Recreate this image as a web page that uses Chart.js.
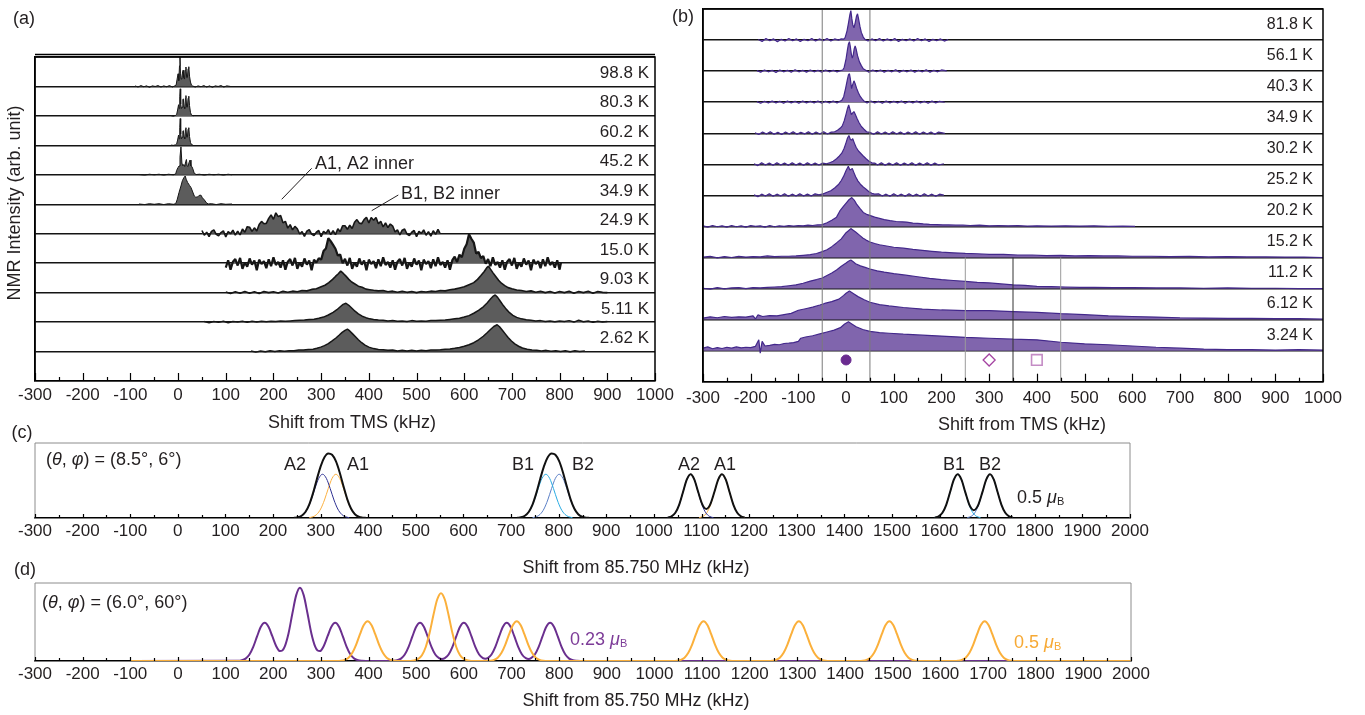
<!DOCTYPE html>
<html>
<head>
<meta charset="utf-8">
<script src="https://cdn.jsdelivr.net/npm/chart.js@4.4.1/dist/chart.umd.min.js"></script>
<style>
  html, body { margin: 0; padding: 0; background: #fff; }
  #wrap { position: relative; width: 1365px; height: 715px; overflow: hidden; }
  #wrap canvas { position: absolute; left: 0; top: 0; }
</style>
</head>
<body>
<div id="wrap">
  <canvas id="chartA" width="1365" height="715"></canvas>
  <canvas id="chartB" width="1365" height="715"></canvas>
  <canvas id="chartC" width="1365" height="715"></canvas>
  <canvas id="chartD" width="1365" height="715"></canvas>
</div>
<script>
// ---------- panel (a): spectra, height above each baseline in row units ----------
const tempsA = ['98.8 K', '80.3 K', '60.2 K', '45.2 K', '34.9 K', '24.9 K', '15.0 K', '9.03 K', '5.11 K', '2.62 K'];

const a988 = [[-90,0.02],[-84,-0.02],[-78,0.03],[-72,-0.01],[-66,0.02],[-60,-0.03],[-54,0.02],[-48,0],[-42,0.03],[-36,-0.02],[-30,0.02],[-24,-0.01],[-18,0.03],[-12,-0.02],[-7,0.02],[-4,0.05],[-2,0.25],[0,0.43],[1.5,0.2],[3,0.7],[4,1.0],[5,0.45],[6.5,0.25],[8,0.3],[9.5,0.5],[10.5,0.55],[12,0.3],[13.5,0.25],[15,0.55],[16.5,0.66],[18,0.3],[19.5,0.3],[21,0.6],[22.5,0.67],[24,0.35],[26,0.15],[28,0.05],[30,0.02],[36,-0.02],[42,0.02],[48,-0.01],[54,0.03],[60,-0.02],[66,0.02],[72,-0.03],[78,0.02],[84,0],[90,0.03],[96,-0.02],[102,0.02],[110,0]];
const a803 = [[-15,0.01],[-10,-0.01],[-5,0.02],[-3,0.05],[-1,0.2],[1,0.38],[2.5,0.25],[3.5,0.65],[4.5,0.92],[5.5,0.4],[7,0.25],[8.5,0.3],[10,0.55],[11,0.58],[12.5,0.3],[14,0.25],[15.5,0.6],[16.5,0.69],[18,0.3],[19.5,0.3],[21,0.6],[22.5,0.67],[24,0.35],[26,0.12],[28,0.03],[32,0]];
const a602 = [[-15,0.01],[-10,0],[-5,0.02],[-3,0.05],[-1,0.18],[1,0.35],[2.5,0.22],[3.5,0.6],[4.5,0.91],[5.5,0.38],[7,0.22],[8.5,0.28],[10,0.48],[11,0.5],[12.5,0.28],[14,0.22],[15.5,0.55],[16.5,0.6],[18,0.28],[19.5,0.28],[21,0.55],[22.5,0.6],[24,0.3],[26,0.1],[28,0.03],[32,0]];
const a452 = [[-82,0.01],[-70,-0.01],[-60,0.02],[-50,0],[-40,0.02],[-30,-0.01],[-20,0.02],[-10,0],[-5,0.03],[-3,0.15],[0,0.25],[2,0.3],[4,0.6],[6,0.95],[8,0.4],[10,0.3],[12,0.35],[14,0.28],[16,0.45],[17.5,0.52],[19,0.3],[21,0.28],[23,0.42],[25,0.5],[27,0.3],[29,0.28],[31,0.2],[34,0.05],[38,0.01],[45,0.02],[55,-0.01],[65,0.02],[75,0],[85,0.02],[95,-0.01],[105,0.02],[113,0]];
const a349 = [[-82,0.01],[-70,-0.01],[-60,0.02],[-50,0],[-40,0.02],[-30,-0.01],[-20,0.02],[-10,0],[-5,0.02],[-2,0.15],[2,0.4],[6,0.62],[9,0.8],[12,0.9],[15,0.96],[17,0.85],[20,0.74],[24,0.64],[27,0.57],[30,0.45],[34,0.28],[37,0.24],[41,0.25],[44,0.3],[48,0.31],[51,0.22],[55,0.15],[59,0.06],[63,0.01],[70,0.02],[80,-0.01],[90,0.02],[100,0],[113,0.01]];
const a249 = [[50,0.11],[55,-0.05],[60,0.05],[65,-0.1],[70,0.08],[75,0.13],[80,-0.02],[85,-0.07],[90,0.04],[95,0.1],[100,-0.11],[105,0.07],[110,0],[115,0.12],[120,-0.05],[125,0.09],[130,-0.04],[135,0.16],[140,0.05],[145,0.24],[150,0.22],[155,0.08],[160,0.2],[165,0.09],[170,0.31],[175,0.42],[180,0.34],[185,0.35],[190,0.52],[195,0.64],[200,0.49],[205,0.71],[210,0.58],[215,0.62],[220,0.37],[225,0.42],[230,0.19],[235,0.31],[240,0.13],[245,0.25],[250,0.17],[255,-0.01],[260,0.07],[265,-0.09],[270,0.09],[275,0.14],[280,-0.01],[285,-0.06],[290,0.05],[295,0.11],[300,-0.1],[305,0.08],[310,0.01],[315,0.14],[320,-0.03],[325,0.1],[330,-0.03],[335,0.17],[340,0.07],[345,0.27],[350,0.27],[355,0.15],[360,0.29],[365,0.18],[370,0.39],[375,0.48],[380,0.36],[385,0.34],[390,0.48],[395,0.56],[400,0.37],[405,0.55],[410,0.46],[415,0.55],[420,0.34],[425,0.42],[430,0.23],[435,0.37],[440,0.21],[445,0.33],[450,0.26],[455,0.06],[460,0.13],[465,-0.04],[470,0.12],[475,0.16],[480,-0.01],[485,-0.06],[490,0.05],[495,0.11],[500,-0.1],[505,0.08],[510,0.01],[515,0.13],[520,-0.05],[525,0.07],[530,-0.08],[535,0.1],[540,-0.02],[545,0.15],[549,0.02]];
const a150 = [[100,-0.15],[105,0.1],[110,-0.22],[115,0.05],[120,0.14],[125,-0.08],[130,0.18],[135,-0.19],[140,0.02],[145,-0.12],[150,0.16],[155,-0.05],[160,0.09],[165,-0.24],[170,0.12],[175,-0.03],[180,0.07],[185,-0.17],[190,0.13],[195,-0.1],[200,0.2],[205,-0.06],[210,0.04],[215,-0.15],[220,0.1],[225,-0.22],[230,0.05],[235,0.14],[240,-0.08],[245,0.18],[250,-0.19],[255,0.02],[260,-0.12],[265,0.16],[270,-0.05],[275,0.09],[280,-0.24],[285,0.12],[290,0.02],[295,0.17],[300,0.12],[305,0.41],[310,0.5],[315,0.85],[320,0.75],[325,0.62],[330,0.49],[335,0.26],[340,0.29],[345,0],[350,0.15],[355,-0.08],[360,0.18],[365,-0.19],[370,0.02],[375,-0.12],[380,0.16],[385,-0.05],[390,0.09],[395,-0.24],[400,0.12],[405,-0.03],[410,0.07],[415,-0.17],[420,0.13],[425,-0.1],[430,0.2],[435,-0.06],[440,0.04],[445,-0.15],[450,0.1],[455,-0.22],[460,0.05],[465,0.14],[470,-0.08],[475,0.18],[480,-0.19],[485,0.02],[490,-0.12],[495,0.16],[500,-0.05],[505,0.09],[510,-0.24],[515,0.12],[520,-0.03],[525,0.07],[530,-0.17],[535,0.13],[540,-0.1],[545,0.2],[550,-0.06],[555,0.04],[560,-0.15],[565,0.1],[570,-0.22],[575,0.1],[580,0.22],[585,0.04],[590,0.29],[595,0.2],[600,0.49],[605,0.64],[610,0.98],[615,0.83],[620,0.7],[625,0.33],[630,0.38],[635,0.17],[640,0.24],[645,-0.02],[650,0.14],[655,-0.1],[660,0.2],[665,-0.06],[670,0.04],[675,-0.15],[680,0.1],[685,-0.22],[690,0.05],[695,0.14],[700,-0.08],[705,0.18],[710,-0.19],[715,0.02],[720,-0.12],[725,0.16],[730,-0.05],[735,0.09],[740,-0.24],[745,0.12],[750,-0.03],[755,0.07],[760,-0.17],[765,0.13],[770,-0.1],[775,0.2],[780,-0.06],[785,0.04],[790,-0.15],[795,0.1],[800,-0.22],[803,0.03]];
const a903 = [[100,0.02],[110,-0.03],[120,0.03],[130,-0.02],[140,0.04],[150,-0.02],[160,0.03],[170,-0.03],[180,0.04],[190,0],[200,0.03],[210,-0.01],[220,0.05],[230,0.01],[240,0.05],[250,0.03],[260,0.07],[270,0.06],[280,0.11],[290,0.13],[300,0.2],[308,0.25],[316,0.34],[324,0.45],[330,0.55],[336,0.64],[341,0.73],[346,0.66],[352,0.56],[358,0.45],[364,0.36],[370,0.3],[378,0.22],[386,0.18],[394,0.12],[402,0.1],[410,0.08],[420,0.06],[430,0.07],[440,0.03],[450,0.05],[460,0.01],[470,0.05],[480,0.01],[490,0.04],[500,0],[510,0.04],[520,0.02],[530,0.05],[540,0.04],[550,0.07],[560,0.06],[570,0.1],[580,0.12],[590,0.16],[600,0.2],[610,0.27],[620,0.34],[628,0.45],[635,0.58],[642,0.72],[648,0.86],[651,0.9],[655,0.8],[660,0.68],[666,0.55],[672,0.42],[678,0.32],[685,0.24],[692,0.17],[700,0.13],[710,0.09],[720,0.07],[730,0.04],[740,0.06],[750,0.01],[760,0.05],[770,0],[780,0.04],[790,-0.01],[800,0.04],[810,0],[820,0.05],[830,-0.02],[840,0.04],[850,0],[860,0.05],[870,-0.02],[880,0.04],[890,0.01],[900,0]];
const a511 = [[55,0.02],[65,-0.02],[75,0.02],[85,-0.01],[95,0.03],[105,-0.02],[115,0.02],[125,0],[135,0.03],[145,-0.01],[155,0.03],[165,0],[175,0.03],[185,0.01],[195,0.03],[205,0.02],[215,0.04],[225,0.03],[235,0.04],[245,0.05],[255,0.06],[265,0.07],[275,0.09],[285,0.1],[295,0.13],[305,0.17],[315,0.24],[325,0.33],[333,0.42],[340,0.52],[346,0.6],[352,0.64],[358,0.57],[364,0.48],[371,0.37],[378,0.28],[386,0.2],[394,0.15],[402,0.11],[410,0.09],[420,0.07],[430,0.06],[440,0.04],[450,0.05],[460,0.03],[470,0.04],[480,0.02],[490,0.05],[500,0.03],[510,0.04],[520,0.03],[530,0.05],[540,0.05],[550,0.06],[560,0.07],[570,0.09],[580,0.11],[590,0.13],[600,0.17],[610,0.22],[620,0.3],[630,0.4],[640,0.52],[648,0.65],[655,0.78],[660,0.87],[665,0.92],[670,0.84],[676,0.7],[682,0.56],[688,0.44],[695,0.32],[702,0.23],[710,0.16],[720,0.11],[730,0.08],[740,0.06],[750,0.04],[760,0.05],[770,0.02],[780,0.04],[790,0.01],[800,0.04],[810,0.02],[820,0.05],[830,0],[840,0.06],[850,0.01],[860,0.04],[870,-0.01],[880,0.03],[890,0],[900,0.02]];
const a262 = [[153,0.02],[163,-0.02],[173,0.02],[183,-0.01],[193,0.03],[203,0],[213,0.03],[223,0.01],[233,0.03],[243,0.03],[253,0.05],[263,0.05],[273,0.07],[283,0.08],[291,0.11],[299,0.15],[307,0.2],[315,0.27],[323,0.36],[331,0.46],[338,0.56],[344,0.65],[350,0.72],[355,0.76],[360,0.7],[366,0.6],[372,0.5],[378,0.4],[385,0.3],[392,0.22],[400,0.15],[410,0.1],[420,0.07],[430,0.06],[440,0.04],[450,0.05],[460,0.02],[470,0.04],[480,0.02],[490,0.04],[500,0.02],[510,0.04],[520,0.03],[530,0.05],[540,0.05],[550,0.06],[560,0.08],[570,0.09],[580,0.11],[590,0.14],[600,0.18],[610,0.23],[620,0.3],[630,0.4],[640,0.52],[648,0.64],[655,0.75],[662,0.85],[669,0.91],[674,0.84],[680,0.72],[686,0.6],[692,0.48],[699,0.36],[706,0.26],[714,0.18],[722,0.12],[732,0.08],[742,0.05],[752,0.04],[762,0.02],[772,0.04],[782,0.01],[792,0.03],[802,0],[812,0.03],[822,-0.01],[832,0.03],[842,0],[853,0.02]];
const spectraA = [a988, a803, a602, a452, a349, a249, a150, a903, a511, a262];

// ---------- panel (b) ----------
const tempsB = ['81.8 K', '56.1 K', '40.3 K', '34.9 K', '30.2 K', '25.2 K', '20.2 K', '15.2 K', '11.2 K', '6.12 K', '3.24 K'];

const b818 = [[-184,0.02],[-176,-0.04],[-168,0.05],[-160,-0.02],[-152,0.04],[-144,-0.05],[-136,0.03],[-128,-0.03],[-120,0.05],[-112,-0.02],[-104,0.04],[-96,-0.04],[-88,0.03],[-80,-0.02],[-72,0.05],[-64,-0.03],[-56,0.04],[-48,-0.02],[-40,0.05],[-32,-0.03],[-24,0.04],[-16,0],[-10,0.04],[-5,0.03],[-2,0.08],[2,0.3],[5,0.55],[8,0.82],[10,0.95],[12,0.7],[14,0.5],[16.5,0.4],[19,0.55],[22,0.78],[24,0.85],[26,0.7],[29,0.45],[32,0.25],[36,0.1],[40,0.02],[46,-0.03],[54,0.04],[62,-0.02],[70,0.05],[78,-0.03],[86,0.04],[94,-0.02],[102,0.05],[110,-0.04],[118,0.03],[126,-0.02],[134,0.04],[142,-0.03],[150,0.05],[158,-0.02],[166,0.04],[174,-0.04],[182,0.03],[190,-0.02],[198,0.04],[206,-0.03],[214,0.02]];
const b561 = [[-187,0.02],[-179,-0.03],[-171,0.04],[-163,-0.02],[-155,0.03],[-147,-0.04],[-139,0.04],[-131,-0.02],[-123,0.03],[-115,-0.03],[-107,0.05],[-99,-0.02],[-91,0.03],[-83,-0.03],[-75,0.04],[-67,-0.02],[-59,0.03],[-51,-0.03],[-43,0.04],[-35,-0.02],[-27,0.03],[-19,-0.02],[-12,0.02],[-7,0.04],[-4,0.12],[0,0.4],[3,0.7],[5,0.88],[7,0.95],[9,0.78],[11,0.55],[13,0.42],[15,0.52],[17,0.72],[19,0.81],[21,0.72],[24,0.5],[28,0.3],[32,0.18],[36,0.08],[42,0.02],[48,-0.03],[56,0.04],[64,-0.02],[72,0.04],[80,-0.03],[88,0.03],[96,-0.02],[104,0.05],[112,-0.03],[120,0.03],[128,-0.02],[136,0.04],[144,-0.03],[152,0.03],[160,-0.02],[168,0.05],[176,-0.03],[184,0.03],[192,-0.02],[200,0.04],[211,0.01]];
const b403 = [[-187,0.02],[-179,-0.03],[-171,0.03],[-163,-0.02],[-155,0.04],[-147,-0.02],[-139,0.03],[-131,-0.03],[-123,0.04],[-115,-0.02],[-107,0.03],[-99,-0.03],[-91,0.04],[-83,-0.02],[-75,0.03],[-67,-0.02],[-59,0.04],[-51,-0.03],[-43,0.03],[-35,-0.02],[-27,0.04],[-19,-0.02],[-13,0.03],[-9,0.06],[-5,0.18],[-1,0.45],[3,0.75],[5,0.88],[7,0.92],[9,0.75],[11.5,0.44],[13.5,0.55],[16.5,0.69],[19,0.6],[22,0.45],[26,0.3],[30,0.18],[34,0.1],[38,0.03],[44,-0.02],[52,0.04],[60,-0.02],[68,0.03],[76,-0.03],[84,0.04],[92,-0.02],[100,0.03],[108,-0.02],[116,0.04],[124,-0.03],[132,0.03],[140,-0.02],[148,0.04],[156,-0.02],[164,0.03],[172,-0.03],[180,0.04],[188,-0.02],[196,0.03],[207,0]];
const b349 = [[-191,0.02],[-183,-0.04],[-175,0.04],[-167,-0.02],[-159,0.05],[-151,-0.03],[-143,0.03],[-135,-0.04],[-127,0.04],[-119,-0.02],[-111,0.05],[-103,-0.03],[-95,0.03],[-87,-0.02],[-79,0.05],[-71,-0.03],[-63,0.04],[-55,-0.02],[-47,0.05],[-39,-0.02],[-31,0.04],[-24,0.05],[-18,0.1],[-12,0.17],[-8,0.24],[-4,0.4],[0,0.62],[3,0.8],[5.5,0.91],[8,0.78],[11,0.6],[14,0.66],[16.5,0.7],[19,0.62],[23,0.48],[27,0.35],[32,0.22],[37,0.14],[43,0.05],[50,0.03],[58,-0.03],[66,0.05],[74,-0.02],[82,0.04],[90,-0.03],[98,0.05],[106,-0.02],[114,0.04],[122,-0.03],[130,0.04],[138,-0.02],[146,0.05],[154,-0.03],[162,0.04],[170,-0.02],[178,0.04],[186,-0.03],[194,0.04],[207,0]];
const b302 = [[-193,0.02],[-185,-0.04],[-177,0.05],[-169,-0.02],[-161,0.04],[-153,-0.03],[-145,0.05],[-137,-0.02],[-129,0.04],[-121,-0.03],[-113,0.05],[-105,-0.02],[-97,0.04],[-89,-0.03],[-81,0.05],[-73,-0.02],[-65,0.04],[-57,-0.02],[-49,0.04],[-41,0.02],[-33,0.06],[-27,0.1],[-20,0.18],[-14,0.27],[-9,0.36],[-4,0.52],[0,0.7],[3,0.85],[6,0.93],[9,0.8],[12,0.78],[14,0.83],[17,0.7],[21,0.55],[26,0.43],[31,0.35],[36,0.27],[42,0.18],[48,0.1],[54,0.05],[60,0.04],[66,-0.02],[74,0.05],[82,-0.03],[90,0.04],[98,-0.02],[106,0.05],[114,-0.03],[122,0.04],[130,-0.02],[138,0.05],[146,-0.03],[154,0.04],[162,-0.02],[170,0.05],[178,-0.03],[186,0.04],[194,-0.02],[205,0.02]];
const b252 = [[-193,0.02],[-185,-0.04],[-177,0.04],[-169,-0.02],[-161,0.05],[-153,-0.03],[-145,0.04],[-137,-0.02],[-129,0.05],[-121,-0.03],[-113,0.04],[-105,-0.02],[-97,0.05],[-89,-0.02],[-81,0.04],[-73,-0.02],[-65,0.05],[-57,0.02],[-48,0.05],[-40,0.1],[-32,0.15],[-24,0.24],[-16,0.35],[-10,0.48],[-5,0.62],[0,0.8],[4.7,0.94],[8,0.82],[11,0.84],[13,0.87],[16,0.75],[20,0.6],[25,0.46],[30,0.36],[36,0.27],[42,0.2],[48,0.12],[54,0.07],[60,0.04],[68,0.05],[76,-0.02],[84,0.04],[92,-0.03],[100,0.05],[108,-0.02],[116,0.04],[124,-0.03],[132,0.05],[140,-0.02],[148,0.04],[156,-0.03],[164,0.05],[172,-0.02],[180,0.04],[188,-0.03],[196,0.04],[205,0.01]];
const b202 = [[-300,0.02],[-290,-0.02],[-280,0.03],[-270,-0.01],[-260,0.02],[-250,-0.02],[-240,0.03],[-230,-0.01],[-220,0.02],[-210,-0.02],[-200,0.03],[-190,0],[-180,0.02],[-170,-0.02],[-160,0.03],[-150,-0.01],[-140,0.02],[-130,0],[-120,0.03],[-110,0.01],[-100,0.03],[-90,0.02],[-80,0.04],[-70,0.03],[-60,0.05],[-50,0.06],[-40,0.12],[-30,0.2],[-20,0.3],[-13,0.5],[-6,0.64],[1,0.77],[6,0.86],[12,0.93],[17,0.85],[22,0.72],[29,0.58],[36,0.45],[43,0.39],[51,0.35],[60,0.3],[70,0.26],[80,0.22],[92,0.19],[105,0.16],[118,0.15],[127,0.14],[140,0.11],[150,0.1],[162,0.08],[175,0.07],[190,0.06],[203,0.05],[215,0.05],[230,0.04],[245,0.04],[260,0.03],[280,0.04],[300,0.02],[320,0.03],[340,0.02],[360,0.03],[380,0.01],[400,0.02],[430,0.01],[460,0.02],[490,0.01],[520,0.02],[550,0],[580,0.01],[606,0]];
const b152 = [[-300,0.01],[-285,0.04],[-270,-0.01],[-255,0.03],[-240,0],[-225,0.04],[-210,0.01],[-195,0.03],[-180,0.02],[-165,0.05],[-150,0.03],[-135,0.04],[-120,0.04],[-105,0.05],[-90,0.07],[-75,0.09],[-62,0.13],[-50,0.19],[-40,0.25],[-30,0.35],[-20,0.47],[-10,0.6],[0,0.8],[5,0.86],[10,0.93],[15,0.88],[20,0.82],[28,0.72],[35,0.63],[42,0.56],[50,0.5],[60,0.45],[70,0.41],[85,0.37],[100,0.33],[120,0.3],[140,0.26],[160,0.23],[180,0.2],[200,0.17],[225,0.15],[250,0.13],[275,0.12],[300,0.1],[330,0.1],[360,0.08],[390,0.08],[420,0.06],[450,0.07],[480,0.05],[510,0.06],[540,0.05],[570,0.05],[600,0.04],[640,0.04],[680,0.03],[720,0.04],[760,0.02],[800,0.03],[840,0.02],[880,0.02],[920,0.01],[960,0.01],[1000,0]];
const b112 = [[-300,0.01],[-285,-0.02],[-270,0.03],[-255,-0.01],[-240,0.02],[-225,0.03],[-210,0],[-195,0.03],[-180,0.02],[-165,0.04],[-150,0.05],[-135,0.06],[-120,0.09],[-105,0.12],[-90,0.17],[-75,0.24],[-62,0.29],[-50,0.34],[-40,0.42],[-30,0.5],[-20,0.6],[-10,0.72],[0,0.82],[5,0.88],[10,0.92],[15,0.86],[20,0.8],[30,0.73],[40,0.68],[50,0.63],[65,0.57],[80,0.53],[100,0.48],[125,0.43],[150,0.38],[175,0.33],[200,0.29],[225,0.26],[250,0.23],[275,0.2],[300,0.18],[325,0.15],[350,0.12],[375,0.1],[400,0.07],[430,0.06],[460,0.05],[490,0.04],[520,0.04],[560,0.03],[600,0.03],[650,0.02],[700,0.02],[750,0.01],[800,0.02],[850,0.01],[900,0.01],[950,0],[1000,0]];
const b612 = [[-300,0.05],[-285,0.09],[-270,0.06],[-255,0.1],[-240,0.07],[-225,0.09],[-210,0.08],[-195,0.12],[-190,0.02],[-185,0.15],[-175,0.1],[-160,0.13],[-145,0.12],[-130,0.16],[-115,0.2],[-100,0.3],[-85,0.35],[-70,0.4],[-55,0.47],[-45,0.52],[-30,0.58],[-15,0.66],[-5,0.78],[0,0.85],[7,0.92],[15,0.84],[25,0.74],[38,0.64],[50,0.56],[70,0.48],[90,0.44],[120,0.39],[160,0.34],[200,0.31],[250,0.29],[300,0.29],[350,0.26],[400,0.23],[450,0.19],[500,0.16],[550,0.12],[600,0.1],[650,0.08],[700,0.06],[750,0.05],[800,0.04],[850,0.04],[900,0.03],[950,0.03],[1000,0.02]];
const b324 = [[-300,0.08],[-290,0.12],[-280,0.06],[-270,0.1],[-260,0.07],[-250,0.11],[-240,0.08],[-230,0.12],[-220,0.09],[-210,0.11],[-200,0.1],[-190,0.14],[-183,0.35],[-180,-0.08],[-176,0.3],[-170,0.15],[-160,0.17],[-150,0.2],[-140,0.19],[-130,0.23],[-120,0.24],[-110,0.26],[-100,0.3],[-95,0.4],[-85,0.44],[-70,0.48],[-55,0.54],[-40,0.6],[-25,0.66],[-12,0.74],[-3,0.86],[5,0.93],[12,0.86],[21,0.77],[35,0.68],[50,0.62],[70,0.58],[90,0.56],[120,0.53],[160,0.5],[200,0.47],[250,0.43],[300,0.4],[350,0.37],[400,0.35],[450,0.27],[500,0.22],[550,0.19],[600,0.15],[650,0.11],[700,0.08],[750,0.05],[800,0.03],[850,0.03],[900,0.02],[950,0.03],[1000,0.02]];
const spectraB = [b818, b561, b403, b349, b302, b252, b202, b152, b112, b612, b324];

const guideFull = [-50, 50];        // kHz, full-height guide lines
const guideLow = [250, 350, 450];   // kHz, guide lines in lowest rows
const markerX = [0, 300, 400];      // circle, diamond, square

// ---------- panel (c): simulated lines, (theta, phi) = (8.5, 6) ----------
const cSum1 = [[244,0.003],[252,0.011],[260,0.036],[268,0.096],[276,0.214],[284,0.398],[292,0.62],[300,0.827],[308,0.971],[316,1.032],[324,1.012],[332,0.909],[340,0.729],[348,0.507],[356,0.299],[364,0.147],[372,0.06],[380,0.02],[388,0.006],[396,0.001]];
const cA2a = [[248,0.006],[256,0.02],[264,0.059],[272,0.144],[280,0.288],[288,0.472],[296,0.634],[304,0.7],[312,0.634],[320,0.472],[328,0.288],[336,0.144],[344,0.059],[352,0.02],[360,0.006]];
const cA1a = [[276,0.006],[284,0.02],[292,0.059],[300,0.144],[308,0.288],[316,0.472],[324,0.634],[332,0.7],[340,0.634],[348,0.472],[356,0.288],[364,0.144],[372,0.059],[380,0.02],[388,0.006]];
const cSum2 = [[713,0.003],[721,0.011],[729,0.036],[737,0.096],[745,0.214],[753,0.398],[761,0.62],[769,0.827],[777,0.971],[785,1.032],[793,1.012],[801,0.909],[809,0.729],[817,0.507],[825,0.299],[833,0.147],[841,0.06],[849,0.02],[857,0.006],[865,0.001]];
const cB1a = [[717,0.006],[725,0.02],[733,0.059],[741,0.144],[749,0.288],[757,0.472],[765,0.634],[773,0.7],[781,0.634],[789,0.472],[797,0.288],[805,0.144],[813,0.059],[821,0.02],[829,0.006]];
const cB2a = [[745,0.006],[753,0.02],[761,0.059],[769,0.144],[777,0.288],[785,0.472],[793,0.634],[801,0.7],[809,0.634],[817,0.472],[825,0.288],[833,0.144],[841,0.059],[849,0.02],[857,0.006]];
const cSum3 = [[1029,0.006],[1037,0.025],[1045,0.083],[1053,0.211],[1061,0.411],[1069,0.613],[1077,0.7],[1085,0.614],[1093,0.415],[1101,0.229],[1105,0.172],[1110,0.145],[1115,0.172],[1119,0.229],[1127,0.415],[1135,0.614],[1143,0.7],[1151,0.613],[1159,0.411],[1167,0.211],[1175,0.083],[1183,0.025],[1191,0.006]];
const cA2b = [[1029,0.006],[1037,0.025],[1045,0.083],[1053,0.211],[1061,0.411],[1069,0.613],[1077,0.7],[1085,0.613],[1093,0.411],[1101,0.211],[1109,0.083],[1117,0.025],[1125,0.006]];
const cA1b = [[1095,0.006],[1103,0.025],[1111,0.083],[1119,0.211],[1127,0.411],[1135,0.613],[1143,0.7],[1151,0.613],[1159,0.411],[1167,0.211],[1175,0.083],[1183,0.025],[1191,0.006]];
const cSum4 = [[1590,0.006],[1598,0.025],[1606,0.083],[1614,0.211],[1622,0.411],[1630,0.613],[1638,0.7],[1646,0.614],[1654,0.414],[1662,0.223],[1667,0.152],[1672,0.126],[1677,0.152],[1682,0.223],[1690,0.414],[1698,0.614],[1706,0.7],[1714,0.613],[1722,0.411],[1730,0.211],[1738,0.083],[1746,0.025],[1754,0.006]];
const cB1b = [[1590,0.006],[1598,0.025],[1606,0.083],[1614,0.211],[1622,0.411],[1630,0.613],[1638,0.7],[1646,0.613],[1654,0.411],[1662,0.211],[1670,0.083],[1678,0.025],[1686,0.006]];
const cB2b = [[1658,0.006],[1666,0.025],[1674,0.083],[1682,0.211],[1690,0.411],[1698,0.613],[1706,0.7],[1714,0.613],[1722,0.411],[1730,0.211],[1738,0.083],[1746,0.025],[1754,0.006]];

// ---------- panel (d): (theta, phi) = (6.0, 60) ----------
const dPurple = [[-100,0],[126,0.002],[134,0.009],[142,0.031],[150,0.083],[158,0.181],[166,0.315],[174,0.439],[182,0.49],[190,0.439],[198,0.318],[206,0.193],[214,0.127],[219,0.134],[224,0.183],[232,0.353],[240,0.605],[248,0.841],[256,0.94],[264,0.841],[272,0.605],[280,0.353],[288,0.183],[293,0.134],[298,0.127],[306,0.193],[314,0.318],[322,0.439],[330,0.49],[338,0.439],[346,0.315],[354,0.181],[362,0.083],[370,0.031],[378,0.009],[386,0.002],[394,0],[444,0],[452,0.002],[460,0.009],[468,0.031],[476,0.083],[484,0.181],[492,0.315],[500,0.439],[508,0.49],[516,0.439],[524,0.315],[532,0.181],[540,0.083],[548,0.036],[554,0.025],[560,0.036],[568,0.083],[576,0.181],[584,0.315],[592,0.439],[600,0.49],[608,0.439],[616,0.315],[624,0.181],[632,0.083],[640,0.037],[645,0.03],[650,0.037],[658,0.083],[666,0.181],[674,0.315],[682,0.439],[690,0.49],[698,0.439],[706,0.315],[714,0.181],[722,0.083],[730,0.036],[736,0.027],[741,0.036],[749,0.083],[757,0.181],[765,0.315],[773,0.439],[781,0.49],[789,0.439],[797,0.315],[805,0.181],[813,0.083],[821,0.031],[829,0.009],[837,0.002],[845,0],[2000,0]];
const dOrange = [[-100,0],[334,0.001],[342,0.004],[350,0.015],[358,0.043],[366,0.105],[374,0.21],[382,0.344],[390,0.462],[398,0.51],[406,0.462],[414,0.344],[422,0.21],[430,0.105],[438,0.043],[446,0.015],[454,0.004],[462,0.001],[488,0.001],[496,0.007],[504,0.025],[512,0.074],[520,0.179],[528,0.358],[536,0.586],[544,0.788],[552,0.87],[560,0.788],[568,0.586],[576,0.358],[584,0.179],[592,0.074],[600,0.025],[608,0.007],[616,0.001],[647,0.001],[655,0.004],[663,0.015],[671,0.043],[679,0.105],[687,0.21],[695,0.344],[703,0.462],[711,0.51],[719,0.462],[727,0.344],[735,0.21],[743,0.105],[751,0.043],[759,0.015],[767,0.004],[775,0.001],[1039,0.001],[1047,0.004],[1055,0.015],[1063,0.043],[1071,0.105],[1079,0.21],[1087,0.344],[1095,0.462],[1103,0.51],[1111,0.462],[1119,0.344],[1127,0.21],[1135,0.105],[1143,0.043],[1151,0.015],[1159,0.004],[1167,0.001],[1239,0.001],[1247,0.004],[1255,0.015],[1263,0.043],[1271,0.105],[1279,0.21],[1287,0.344],[1295,0.462],[1303,0.51],[1311,0.462],[1319,0.344],[1327,0.21],[1335,0.105],[1343,0.043],[1351,0.015],[1359,0.004],[1367,0.001],[1429,0.001],[1437,0.004],[1445,0.015],[1453,0.043],[1461,0.105],[1469,0.21],[1477,0.344],[1485,0.462],[1493,0.51],[1501,0.462],[1509,0.344],[1517,0.21],[1525,0.105],[1533,0.043],[1541,0.015],[1549,0.004],[1557,0.001],[1629,0.001],[1637,0.004],[1645,0.015],[1653,0.043],[1661,0.105],[1669,0.21],[1677,0.344],[1685,0.462],[1693,0.51],[1701,0.462],[1709,0.344],[1717,0.21],[1725,0.105],[1733,0.043],[1741,0.015],[1749,0.004],[1757,0.001],[2000,0]];

// ---------- shared helpers ----------
const FAM = "'Liberation Sans', Arial, Helvetica, sans-serif";
const INK = '#231f20';
const fnt = (size, style) => (style ? style + ' ' : '') + size + 'px ' + FAM;
Chart.defaults.font.family = FAM;
Chart.defaults.color = INK;
Chart.defaults.animation = false;

const W = 1365, H = 715;
const pts = (pairs, base = 0) => pairs.map(p => ({x: p[0], y: base + p[1]}));

function drawRich(ctx, t) {
  ctx.save();
  ctx.translate(t.x, t.y);
  if (t.rot) ctx.rotate(t.rot);
  ctx.textBaseline = 'middle';
  ctx.textAlign = 'left';
  let w = 0;
  t.parts.forEach(p => { ctx.font = p[1]; w += ctx.measureText(p[0]).width; });
  let cx = t.align === 'center' ? -w / 2 : t.align === 'right' ? -w : 0;
  t.parts.forEach(p => {
    ctx.font = p[1];
    ctx.fillStyle = p[2] || INK;
    ctx.fillText(p[0], cx, p[3] || 0);
    cx += ctx.measureText(p[0]).width;
  });
  ctx.restore();
}

const paper = {
  id: 'paper',
  afterDraw(chart, args, o) {
    const {ctx, chartArea: a} = chart;
    const xs = chart.scales.x, ys = chart.scales.y;
    ctx.save();
    if (o.frame) {
      ctx.strokeStyle = o.frame;
      ctx.lineWidth = o.frameWidth || 1;
      ctx.beginPath();
      ctx.moveTo(a.left, a.bottom); ctx.lineTo(a.left, a.top);
      ctx.lineTo(a.right, a.top); ctx.lineTo(a.right, a.bottom);
      if (o.doubleTop) { ctx.moveTo(a.left, a.top - o.doubleTop); ctx.lineTo(a.right, a.top - o.doubleTop); }
      ctx.stroke();
    }
    if (o.ticks) {
      ctx.strokeStyle = '#000';
      ctx.lineWidth = 1.2;
      for (let v = xs.min; v <= xs.max; v += o.ticks.minor) {
        const px = Math.round(xs.getPixelForValue(v)) + 0.5;
        const len = v % o.ticks.major === 0 ? o.ticks.majorLen : o.ticks.minorLen;
        ctx.beginPath(); ctx.moveTo(px, a.bottom); ctx.lineTo(px, a.bottom - len); ctx.stroke();
      }
    }
    if (o.rows) {
      const n = o.rows.labels.length;
      o.rows.labels.forEach((lab, i) => {
        drawRich(ctx, {
          x: xs.getPixelForValue(xs.max) + o.rows.dx,
          y: ys.getPixelForValue(n - i + o.rows.dy),
          align: 'right', parts: [[lab, o.rows.font]]
        });
      });
    }
    (o.lines || []).forEach(l => {
      ctx.strokeStyle = INK; ctx.lineWidth = 1;
      ctx.beginPath(); ctx.moveTo(l[0], l[1]); ctx.lineTo(l[2], l[3]); ctx.stroke();
    });
    (o.texts || []).forEach(t => drawRich(ctx, t));
    ctx.restore();
  }
};

function xAxis(min, max, h, pad, size) {
  return {
    type: 'linear', min, max,
    afterFit: s => { s.height = h; },
    ticks: {stepSize: 100, autoSkip: false, maxRotation: 0, padding: pad,
      font: {size}, color: INK, callback: v => String(v)},
    grid: {display: true, drawOnChartArea: false, drawTicks: false},
    border: {color: '#000', width: 1.5}
  };
}
function rowAxis(max) {
  return {
    min: 0, max, z: 1,
    afterFit: s => { s.width = 0; },
    ticks: {display: false, stepSize: 1},
    grid: {color: '#141414', lineWidth: 1.5, drawTicks: false},
    border: {color: '#000', width: 1.5}
  };
}
const pad = (l, t, r, b, xh) => ({left: l, top: t, right: W - r, bottom: H - b - xh});

// ---------- (a) ----------
const lineWA = [1, 1, 1, 1, 1, 1.6, 2.2, 1.6, 1.5, 1.5];
new Chart(document.getElementById('chartA'), {
  type: 'line',
  data: {
    datasets: spectraA.map((s, i) => {
      const base = spectraA.length - i;
      return {data: pts(s, base), fill: {value: base}, borderColor: '#161616',
        backgroundColor: '#5c5c5c', borderWidth: lineWA[i], borderJoinStyle: 'bevel',
        pointRadius: 0, tension: 0};
    })
  },
  options: {
    responsive: false, events: [],
    layout: {padding: pad(35, 57, 655, 381, 30)},
    scales: {x: xAxis(-300, 1000, 30, 4, 17), y: rowAxis(11)},
    plugins: {
      legend: {display: false}, tooltip: {enabled: false},
      paper: {
        frame: '#000', frameWidth: 1.5, doubleTop: 2.5,
        ticks: {minor: 50, major: 100, majorLen: 8, minorLen: 4},
        rows: {labels: tempsA, dx: -6, dy: 0.45, font: fnt(17)},
        lines: [[281.7, 199.3, 311.7, 168.3], [371.7, 210.7, 398.3, 195]],
        texts: [
          {x: 24, y: 19, align: 'center', parts: [['(a)', fnt(18)]]},
          {x: 15, y: 203, align: 'center', rot: -Math.PI / 2, parts: [['NMR Intensity (arb. unit)', fnt(18)]]},
          {x: 352, y: 423, align: 'center', parts: [['Shift from TMS (kHz)', fnt(18)]]},
          {x: 315, y: 164, parts: [['A1, A2 inner', fnt(18)]]},
          {x: 401, y: 194, parts: [['B1, B2 inner', fnt(18)]]}
        ]
      }
    }
  },
  plugins: [paper]
});

// ---------- (b) ----------
const purpleFill = '#8065ad', purpleLine = '#43288b';
const guideSets = [
  ...guideFull.map(v => ({data: [{x: v, y: 0}, {x: v, y: 12}], borderColor: '#7a7a7a'})),
  ...guideLow.map((v, i) => ({data: [{x: v, y: 0}, {x: v, y: 4}], borderColor: i === 1 ? '#333' : '#9a9a9a'}))
].map(d => Object.assign(d, {borderWidth: 1, pointRadius: 0, fill: false, order: -1}));
const markerStyles = [
  {pointStyle: 'circle', pointRadius: 5, pointBackgroundColor: '#6a2b90', pointBorderColor: '#6a2b90'},
  {pointStyle: 'rectRot', pointRadius: 6, pointBackgroundColor: 'rgba(0,0,0,0)', pointBorderColor: '#a545a2', pointBorderWidth: 1.3},
  {pointStyle: 'rect', pointRadius: 7.5, pointBackgroundColor: 'rgba(0,0,0,0)', pointBorderColor: '#c48cc5', pointBorderWidth: 1.6}
];
new Chart(document.getElementById('chartB'), {
  type: 'line',
  data: {
    datasets: [
      ...spectraB.map((s, i) => {
        const base = spectraB.length - i;
        return {data: pts(s, base), fill: {value: base}, borderColor: purpleLine,
          backgroundColor: purpleFill, borderWidth: 1.2, borderJoinStyle: 'bevel',
          pointRadius: 0, tension: 0};
      }),
      ...guideSets,
      ...markerX.map((v, i) => Object.assign({data: [{x: v, y: 0.7}], showLine: false, order: -2}, markerStyles[i]))
    ]
  },
  options: {
    responsive: false, events: [],
    layout: {padding: pad(703, 5, 1323, 381.7, 30)},
    scales: {x: xAxis(-300, 1000, 30, 6, 17), y: rowAxis(12)},
    plugins: {
      legend: {display: false}, tooltip: {enabled: false},
      paper: {
        frame: '#000', frameWidth: 1.5,
        ticks: {minor: 50, major: 100, majorLen: 8, minorLen: 4},
        rows: {labels: tempsB, dx: -10, dy: 0.5, font: fnt(16)},
        texts: [
          {x: 683, y: 17, align: 'center', parts: [['(b)', fnt(18)]]},
          {x: 1022, y: 425, align: 'center', parts: [['Shift from TMS (kHz)', fnt(18)]]}
        ]
      }
    }
  },
  plugins: [paper]
});

// ---------- (c) ----------
const curve = (data, color, width, order) => ({data: pts(data), borderColor: color, borderWidth: width,
  pointRadius: 0, fill: false, cubicInterpolationMode: 'monotone', order});
const navy = '#2e3192', amber = '#fbb040', cyan = '#29abe2', steel = '#5a7fc6';
const muB = (num, color) => [[num + ' ', fnt(18), color], ['μ', fnt(18, 'italic'), color], ['B', fnt(11), color, 4]];
const thetaPhi = (rest) => [['(', fnt(18)], ['θ', fnt(18, 'italic')], [', ', fnt(18)], ['φ', fnt(18, 'italic')], [rest, fnt(18)]];
new Chart(document.getElementById('chartC'), {
  type: 'line',
  data: {
    datasets: [
      curve(cSum1, '#111', 2, 0), curve(cSum2, '#111', 2, 0), curve(cSum3, '#111', 2, 0), curve(cSum4, '#111', 2, 0),
      curve(cA2a, navy, 1, 1), curve(cA1a, amber, 1, 1), curve(cB1a, cyan, 1, 1), curve(cB2a, steel, 1, 1),
      curve(cA2b, navy, 1, 1), curve(cA1b, amber, 1, 1), curve(cB1b, cyan, 1, 1), curve(cB2b, steel, 1, 1)
    ]
  },
  options: {
    responsive: false, events: [],
    layout: {padding: pad(35, 443, 1130, 518, 30)},
    scales: {x: xAxis(-300, 2000, 30, 3, 17), y: {display: false, min: 0, max: 1.2}},
    plugins: {
      legend: {display: false}, tooltip: {enabled: false},
      paper: {
        frame: '#8c8c8c', frameWidth: 1,
        ticks: {minor: 50, major: 100, majorLen: 4, minorLen: 3},
        texts: [
          {x: 22, y: 433, align: 'center', parts: [['(c)', fnt(18)]]},
          {x: 636, y: 568, align: 'center', parts: [['Shift from 85.750 MHz (kHz)', fnt(18)]]},
          {x: 46, y: 460, parts: thetaPhi(') = (8.5°, 6°)')},
          {x: 295, y: 465, align: 'center', parts: [['A2', fnt(18)]]},
          {x: 358, y: 465, align: 'center', parts: [['A1', fnt(18)]]},
          {x: 523, y: 465, align: 'center', parts: [['B1', fnt(18)]]},
          {x: 583, y: 465, align: 'center', parts: [['B2', fnt(18)]]},
          {x: 689, y: 465, align: 'center', parts: [['A2', fnt(18)]]},
          {x: 725, y: 465, align: 'center', parts: [['A1', fnt(18)]]},
          {x: 954, y: 465, align: 'center', parts: [['B1', fnt(18)]]},
          {x: 990, y: 465, align: 'center', parts: [['B2', fnt(18)]]},
          {x: 1017, y: 498, parts: muB('0.5', INK)}
        ]
      }
    }
  },
  plugins: [paper]
});

// ---------- (d) ----------
const violet = '#6a2f8e', orange = '#fbb03b';
new Chart(document.getElementById('chartD'), {
  type: 'line',
  data: {
    datasets: [curve(dOrange, orange, 2, 0), curve(dPurple, violet, 2, 1)]
  },
  options: {
    responsive: false, events: [],
    layout: {padding: pad(35, 583, 1131, 661, 30)},
    scales: {x: xAxis(-300, 2000, 30, 3, 17), y: {display: false, min: 0, max: 1}},
    plugins: {
      legend: {display: false}, tooltip: {enabled: false},
      paper: {
        frame: '#8c8c8c', frameWidth: 1,
        ticks: {minor: 50, major: 100, majorLen: 4, minorLen: 3},
        texts: [
          {x: 25, y: 570, align: 'center', parts: [['(d)', fnt(18)]]},
          {x: 636, y: 701, align: 'center', parts: [['Shift from 85.750 MHz (kHz)', fnt(18)]]},
          {x: 42, y: 603, parts: thetaPhi(') = (6.0°, 60°)')},
          {x: 570, y: 640, parts: muB('0.23', '#7d3c98')},
          {x: 1014, y: 643, parts: muB('0.5', '#f7a934')}
        ]
      }
    }
  },
  plugins: [paper]
});
</script>
</body>
</html>
